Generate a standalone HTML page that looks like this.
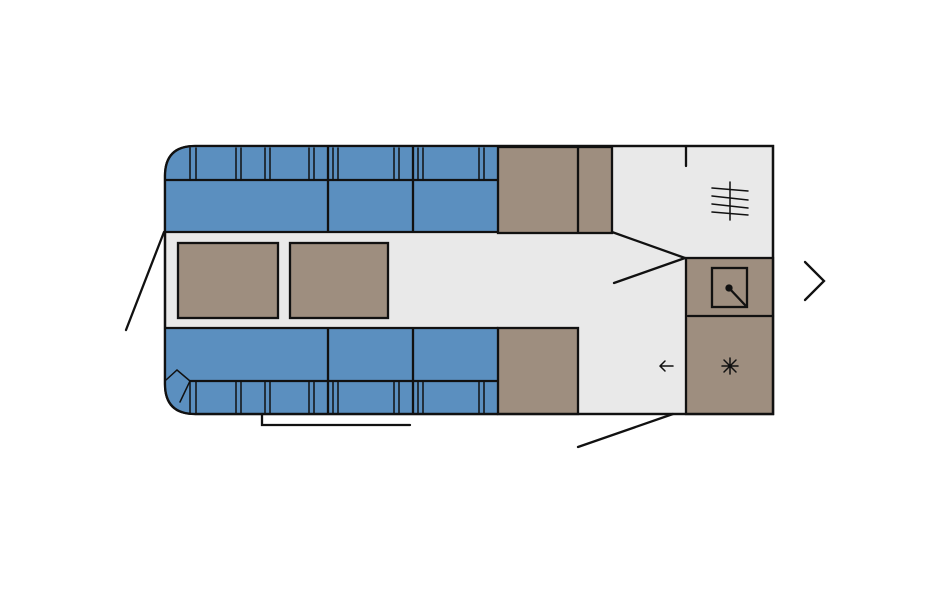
<!DOCTYPE html>
<html><head><style>html,body{margin:0;padding:0;background:#fff}</style></head><body>
<svg width="950" height="594" viewBox="0 0 950 594" xmlns="http://www.w3.org/2000/svg">
<g stroke="#111" stroke-width="2.3" fill="none" stroke-linecap="round">
<path d="M195,146 H773 V414 H195 Q165,414 165,384 V176 Q165,146 195,146 Z" fill="#e9e9e9"/>
<path d="M195,147 H498 V232 H166 V176 Q166,147 195,147 Z" fill="#5b8fbf" stroke="none"/>
<path d="M166,180 H498 M166,232 H498 M328,147 V232 M413,147 V232"/>
<g stroke-width="1.5">
<path d="M190,148 V180 M196,148 V180 M236,148 V180 M241,148 V180 M265,148 V180 M270,148 V180 M309,148 V180 M314,148 V180 M333,148 V180 M338,148 V180 M394,148 V180 M399,148 V180 M418,148 V180 M423,148 V180 M479,148 V180 M484,148 V180"/>
</g>
<path d="M166,328 H498 V414 H195 Q166,414 166,384 Z" fill="#5b8fbf" stroke="none"/>
<path d="M166,328 H498 M190,381 H498 M195,414 H498 M328,328 V414 M413,328 V414"/>
<path d="M166,380 L177,370 L190,381 L180,402" stroke-width="1.5"/>
<g stroke-width="1.5">
<path d="M190,382 V414 M196,382 V414 M236,382 V414 M241,382 V414 M265,382 V414 M270,382 V414 M309,382 V414 M314,382 V414 M333,382 V414 M338,382 V414 M394,382 V414 M399,382 V414 M418,382 V414 M423,382 V414 M479,382 V414 M484,382 V414"/>
</g>
<rect x="498" y="147" width="114" height="86" fill="#9e8e7f"/>
<path d="M578,147 V232"/>
<rect x="498" y="328" width="80" height="86" fill="#9e8e7f"/>
<rect x="178" y="243" width="100" height="75" fill="#9e8e7f"/>
<rect x="290" y="243" width="98" height="75" fill="#9e8e7f"/>
<rect x="686" y="258" width="87" height="156" fill="#9e8e7f"/>
<path d="M688,316 H773"/>
<rect x="712" y="268" width="35" height="39"/>
<circle cx="729" cy="288" r="2.5" fill="#111"/>
<path d="M729,288 L745,305"/>
<path d="M722,366 H738 M730,358 V374 M724,360 L736,372 M736,360 L724,372" stroke-width="1.5"/>
<path d="M673,366 H660 M665,361 L660,366 L665,371" stroke-width="1.5"/>
<path d="M612,232 L685,258 M614,283 L685,258 M686,146 V166"/>
<path d="M195,146 H773 V414 H195 Q165,414 165,384 V176 Q165,146 195,146 Z"/>
<path d="M712,188 L748,191 M712,196 L748,200 M712,204 L748,208 M712,212 L748,215 M730,182 V220" stroke-width="1.5"/>
<path d="M126,330 L164,232 M578,447 L673,414 M262,414 V425 H410"/>
<path d="M805,262 L824,281 L805,300"/>
</g>
</svg>
</body></html>
